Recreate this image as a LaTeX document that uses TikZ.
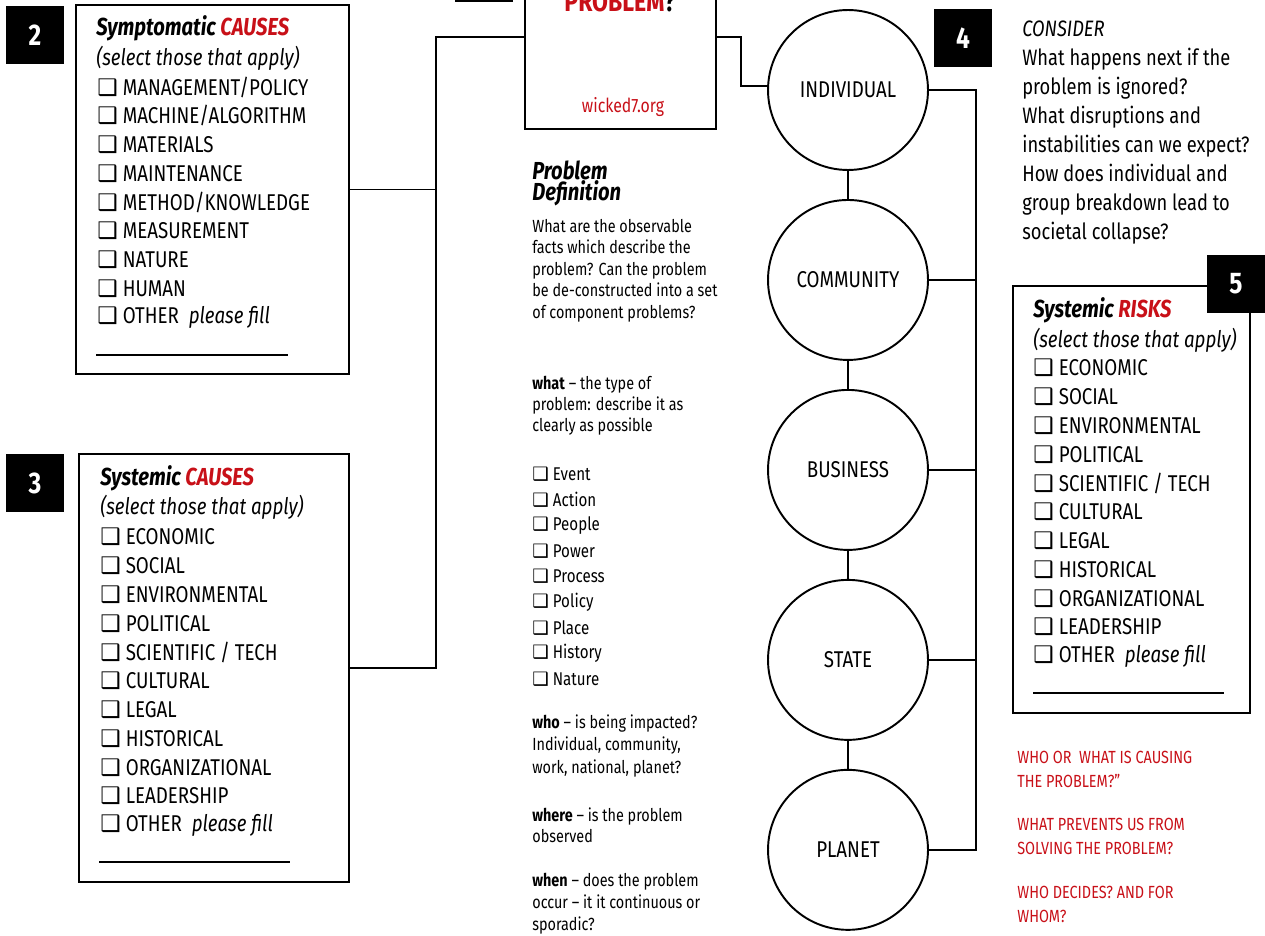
\documentclass[tikz,border=0pt]{standalone}
\usepackage{fontspec}
\setmainfont{Fira Sans}[FakeStretch=0.82]
\newfontfamily\symfont{DejaVu Sans}[Scale=1.0]
\usetikzlibrary{positioning}
\definecolor{wred}{RGB}{200,16,24}
\newcommand{\chk}{{\symfont ❑}}

\begin{document}
\begin{tikzpicture}[x=0.02cm,y=-0.02cm,node distance=3.8cm,on grid,
    box/.style={draw, line width=1.1pt, rectangle, inner sep=0pt},
    numbox/.style={fill=black, text=white, font=\fontsize{17}{17}\selectfont\bfseries, minimum size=1.16cm, inner sep=0pt},
    level/.style={circle, draw, line width=1.1pt, minimum size=3.2cm, inner sep=0pt, font=\fontsize{13}{15}\selectfont},
    item/.style={anchor=west, inner sep=0pt, font=\fontsize{13}{15}\selectfont},
    small/.style={anchor=west, inner sep=0pt, font=\fontsize{10.5}{12}\selectfont},
    title/.style={anchor=west, inner sep=0pt, font=\fontsize{14}{16}\selectfont\bfseries\itshape},
    note/.style={anchor=north west, inner sep=0pt, align=left},
    link/.style={line width=1.1pt}
    ]
    \useasboundingbox (0,0) rectangle (1265,936);
    \clip (0,0) rectangle (1265,936);

    % boxes
    \node[box, minimum width=3.82cm, minimum height=3.96cm] (q_0) at (620.5,30) {};
    \node[box, minimum width=5.46cm, minimum height=7.38cm] (b_2) at (212.5,189.5) {};
    \node[box, minimum width=5.4cm, minimum height=8.56cm] (b_3) at (214,668) {};
    \node[box, minimum width=4.74cm, minimum height=8.54cm] (b_5) at (1131.5,499.5) {};

    % levels
    \node[level] (c_0) at (848,90) {INDIVIDUAL};
    \node[level] (c_1) [below=of c_0] {COMMUNITY};
    \node[level] (c_2) [below=of c_1] {BUSINESS};
    \node[level] (c_3) [below=of c_2] {STATE};
    \node[level] (c_4) [below=of c_3] {PLANET};

    \node[numbox] (n_1) at (484,-27) {};
    \node[numbox] (n_2) at (35,35) {2};
    \node[numbox] (n_3) at (35,483) {3};
    \node[numbox] (n_4) at (963,38) {4};
    \node[numbox] (n_5) at (1236,284) {5};

    % connectors
    \coordinate (j_0) at (436,37);
    \coordinate (j_1) at (741,37);
    \coordinate (j_2) at (976,90);
    \draw[link] (q_0.west |- j_0) -- (j_0) |- (b_3.east);
    \draw[link] (b_2.east) -- (b_2.east -| j_0);
    \draw[link] (q_0.east |- j_1) -- (j_1) |- ([yshift=0.08cm]c_0.west);
    \draw[link] (c_0.east) -- (j_2) |- (c_4.east);
    \foreach \c in {c_1,c_2,c_3}
        \draw[link] (\c.east) -- (\c.east -| j_2);
    \draw[link] (c_0) -- (c_1) (c_1) -- (c_2) (c_2) -- (c_3) (c_3) -- (c_4);

    % top box
    \node[anchor=base, font=\fontsize{16}{16}\selectfont\bfseries, text=wred] (pr) at (620,12) {PROBLEM\textcolor{black}{?}};
    \node[font=\fontsize{11}{12}\selectfont, text=wred] (url) at (623,107) {wicked7.org};

    % symptomatic causes
    \node[title] (t_2) at (96,28) {Symptomatic \textcolor{wred}{CAUSES}};
    \node[item, font=\fontsize{13}{15}\selectfont\itshape] (a_2) at (96,58) {(select those that apply)};
    \foreach \t [count=\i] in {MANAGEMENT/POLICY,MACHINE/ALGORITHM,MATERIALS,MAINTENANCE,METHOD/KNOWLEDGE,MEASUREMENT,NATURE,HUMAN,{OTHER\ \ \textit{please fill}}}
        \node[item] (s_\i) at (97,{58.25+\i*28.75}) {\chk\ \t};
    \draw[line width=0.6pt] (96,355) -- (288,355);

    % systemic causes
    \node[title] (t_3) at (100,478) {Systemic \textcolor{wred}{CAUSES}};
    \node[item, font=\fontsize{13}{15}\selectfont\itshape] (a_3) at (100,507) {(select those that apply)};
    \foreach \t [count=\i] in {ECONOMIC,SOCIAL,ENVIRONMENTAL,POLITICAL,SCIENTIFIC / TECH,CULTURAL,LEGAL,HISTORICAL,ORGANIZATIONAL,LEADERSHIP,{OTHER\ \ \textit{please fill}}}
        \node[item] (u_\i) at (100,{508.2+\i*28.8}) {\chk\ \t};
    \draw[line width=0.6pt] (99,862) -- (290,862);

    % systemic risks
    \node[title] (t_5) at (1033,310) {Systemic \textcolor{wred}{RISKS}};
    \node[item, font=\fontsize{13}{15}\selectfont\itshape] (a_5) at (1033,340) {(select those that apply)};
    \foreach \t [count=\i] in {ECONOMIC,SOCIAL,ENVIRONMENTAL,POLITICAL,SCIENTIFIC / TECH,CULTURAL,LEGAL,HISTORICAL,ORGANIZATIONAL,LEADERSHIP,{OTHER\ \ \textit{please fill}}}
        \node[item] (r_\i) at (1033,{339.2+\i*28.8}) {\chk\ \t};
    \draw[line width=0.6pt] (1033,693) -- (1224,693);

    % problem definition
    \node[note, font=\fontsize{14}{12.5}\selectfont\bfseries\itshape] (pd) at (532,160) {Problem\\Definition};
    \node[note, font=\fontsize{10}{12.2}\selectfont] (pd_t) at (532,219) {What are the observable\\facts which describe the\\problem? Can the problem\\be de-constructed into a set\\of component problems?};
    \node[note, font=\fontsize{10}{12}\selectfont] (wt) at (532,376) {\textbf{what} – the type of\\problem: describe it as\\clearly as possible};
    \foreach \t [count=\i] in {Event,Action,People,Power,Process,Policy,Place,History,Nature}
        \node[small] (w_\i) at (532,{448.4+\i*25.6}) {\chk\ \t};
    \node[note, font=\fontsize{10}{13}\selectfont] (who) at (532,714) {\textbf{who} – is being impacted?\\Individual, community,\\work, national, planet?};
    \node[note, font=\fontsize{10}{12.2}\selectfont] (where) at (532,807) {\textbf{where} – is the problem\\observed};
    \node[note, font=\fontsize{10}{12.4}\selectfont] (when) at (532,873) {\textbf{when} – does the problem\\occur – it it continuous or\\sporadic?};

    % consider
    \node[note, font=\fontsize{12.7}{16.5}\selectfont] (cons) at (1022,21) {\textit{CONSIDER}\\What happens next if the\\problem is ignored?\\What disruptions and\\instabilities can we expect?\\How does individual and\\group breakdown lead to\\societal collapse?};

    \node[note, text=wred, font=\fontsize{10}{13.5}\selectfont] (q_a) at (1017,751) {WHO OR\ \ WHAT IS CAUSING\\THE PROBLEM?”};
    \node[note, text=wred, font=\fontsize{10}{13.5}\selectfont] (q_b) at (1017,818) {WHAT PREVENTS US FROM\\SOLVING THE PROBLEM?};
    \node[note, text=wred, font=\fontsize{10}{13.5}\selectfont] (q_c) at (1017,886) {WHO DECIDES? AND FOR\\WHOM?};
\end{tikzpicture}
\end{document}
